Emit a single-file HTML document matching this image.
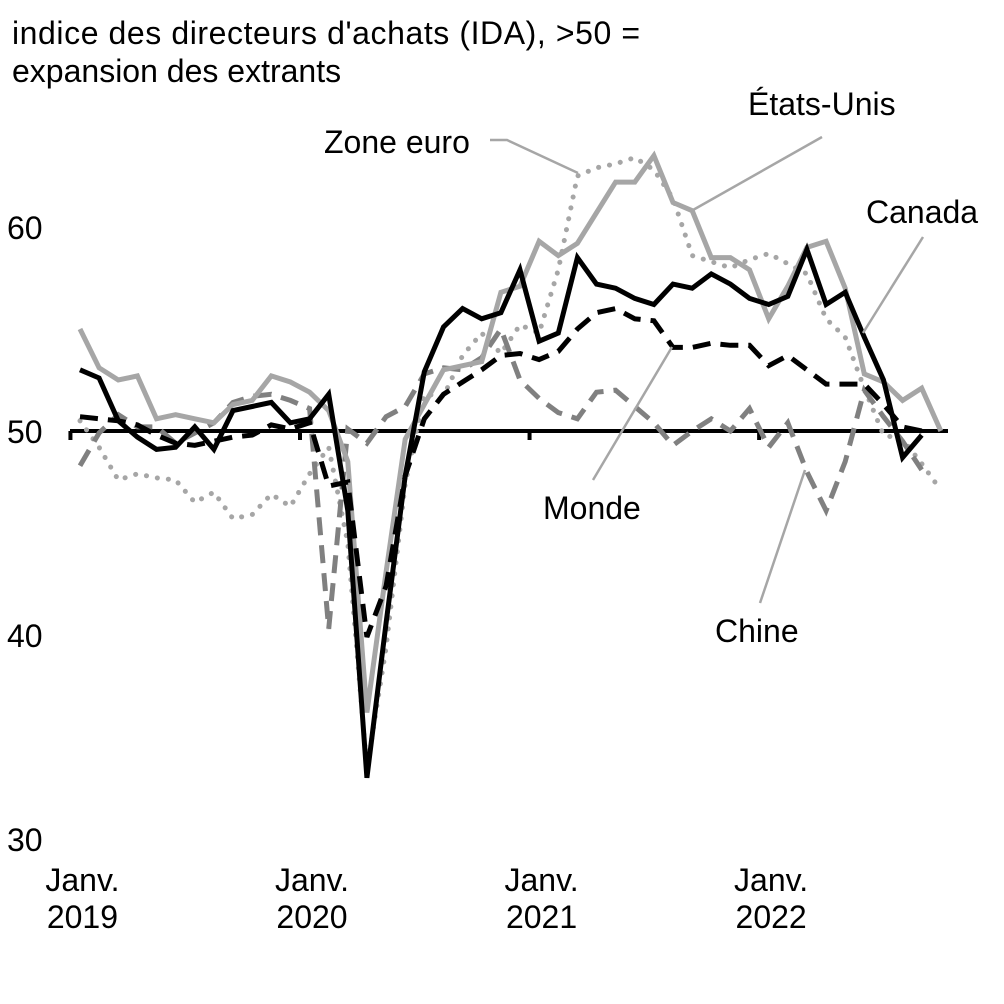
<!DOCTYPE html>
<html><head><meta charset="utf-8"><style>
body{margin:0;background:#fff}
svg{display:block;font-family:"Liberation Sans",sans-serif}
</style></head><body>
<svg id="chart" width="1004" height="1004" viewBox="0 0 1004 1004">
<text x="12" y="44" font-size="32" textLength="628">indice des directeurs d'achats (IDA), &gt;50 =</text>
<text x="12" y="82" font-size="32">expansion des extrants</text>
<g id="yticks"></g>
<g id="xticks"></g>
<g id="series"></g>
<g id="labels" font-size="32">
<polyline points="490,140 507,140 578,173" fill="none" stroke="#a6a6a6" stroke-width="2.5"/>
<text x="324" y="153">Zone euro</text>
<line x1="822" y1="137" x2="693" y2="210" stroke="#a6a6a6" stroke-width="2.5"/>
<text x="748" y="115">États-Unis</text>
<line x1="923" y1="237" x2="863" y2="333" stroke="#a6a6a6" stroke-width="2.5"/>
<text x="866" y="223">Canada</text>
<line x1="672" y1="347" x2="593" y2="480" stroke="#a6a6a6" stroke-width="2.5"/>
<text x="543" y="519">Monde</text>
<line x1="805" y1="470" x2="760" y2="603" stroke="#a6a6a6" stroke-width="2.5"/>
<text x="715" y="642">Chine</text>
</g>
</svg>
<script>
const yTicks=[30,40,50,60];
const xTickYears=["2019","2020","2021","2022"];
const canada=[53.0,52.6,50.5,49.7,49.1,49.2,50.2,49.1,51.0,51.2,51.4,50.4,50.6,51.8,46.1,33.0,40.6,47.8,52.9,55.1,56.0,55.5,55.8,57.9,54.4,54.8,58.5,57.2,57.0,56.5,56.2,57.2,57.0,57.7,57.2,56.5,56.2,56.6,58.9,56.2,56.8,54.6,52.5,48.7,49.8];
const etatsUnis=[55.0,53.1,52.5,52.7,50.6,50.8,50.6,50.4,51.3,51.5,52.7,52.4,51.9,51.0,48.5,36.2,43.1,49.6,51.3,53.0,53.2,53.4,56.8,57.1,59.3,58.6,59.2,60.7,62.2,62.2,63.5,61.2,60.8,58.5,58.5,57.9,55.5,57.1,59.0,59.3,57.0,52.8,52.4,51.5,52.1,50.0];
const zoneEuro=[50.5,49.2,47.6,47.9,47.7,47.6,46.5,47.0,45.7,45.9,46.9,46.3,47.9,49.2,44.5,33.4,39.4,47.4,51.8,51.7,53.7,54.8,53.8,55.2,54.8,57.9,62.5,62.9,63.1,63.4,62.8,61.4,58.6,58.3,58.0,58.4,58.7,58.2,57.7,55.5,54.6,52.1,49.8,49.6,48.4,47.1];
const monde=[50.7,50.6,50.5,50.3,49.8,49.4,49.3,49.5,49.7,49.8,50.3,50.1,50.4,47.3,47.5,39.9,42.4,47.8,50.6,51.8,52.4,53.0,53.7,53.8,53.5,53.9,55.0,55.8,56.0,55.5,55.4,54.1,54.1,54.3,54.2,54.2,53.2,53.7,53.0,52.3,52.3,52.3,51.3,50.2,50.0];
const chine=[48.3,49.9,50.8,50.2,50.2,49.4,49.9,50.4,51.4,51.7,51.8,51.5,51.1,40.3,50.1,49.4,50.7,51.2,52.8,53.1,53.0,53.6,55.0,52.5,51.6,50.9,50.6,51.9,52.0,51.2,50.4,49.3,50.0,50.6,50.0,51.1,49.2,50.4,48.0,46.1,48.5,52.0,50.7,49.5,48.1];

const NS="http://www.w3.org/2000/svg";
function xPos(i){return 80+19.13*i;}
function yPos(v){return 431-(v-50)*20.4;}

const yg=document.getElementById('yticks');
yTicks.forEach(v=>{
  const t=document.createElementNS(NS,'text');
  t.setAttribute('x',7);t.setAttribute('y',yPos(v)+12);t.setAttribute('font-size','32');
  t.textContent=v;
  
  
  yg.appendChild(t);
});

const xg=document.getElementById('xticks');
const axis=document.createElementNS(NS,'line');
axis.setAttribute('x1',70);axis.setAttribute('x2',948);
axis.setAttribute('y1',yPos(50));axis.setAttribute('y2',yPos(50));
axis.setAttribute('stroke','#000');axis.setAttribute('stroke-width','4');


xg.appendChild(axis);
xTickYears.forEach((yr,k)=>{
  const x=xPos(12*k-0.5);
  const tk=document.createElementNS(NS,'line');
  tk.setAttribute('x1',x);tk.setAttribute('x2',x);
  tk.setAttribute('y1',yPos(50));tk.setAttribute('y2',yPos(50)+9);
  tk.setAttribute('stroke','#000');tk.setAttribute('stroke-width','4');
  
  
  xg.appendChild(tk);
  const cx=x+12;
  const t1=document.createElementNS(NS,'text');
  t1.setAttribute('x',cx);t1.setAttribute('y',891);t1.setAttribute('font-size','32');t1.setAttribute('text-anchor','middle');
  t1.textContent='Janv.';
  
  
  xg.appendChild(t1);
  const t2=document.createElementNS(NS,'text');
  t2.setAttribute('x',cx);t2.setAttribute('y',928);t2.setAttribute('font-size','32');t2.setAttribute('text-anchor','middle');
  t2.textContent=yr;
  
  
  xg.appendChild(t2);
});

const sg=document.getElementById('series');
function draw(arr,name,color,dash,cap){
  const p=document.createElementNS(NS,'polyline');
  p.setAttribute('points',arr.map((v,i)=>xPos(i).toFixed(1)+','+yPos(v).toFixed(1)).join(' '));
  p.setAttribute('fill','none');p.setAttribute('stroke',color);p.setAttribute('stroke-width','5');
  p.setAttribute('stroke-linejoin','miter');
  if(dash)p.setAttribute('stroke-dasharray',dash);
  if(cap)p.setAttribute('stroke-linecap',cap);
  
  
  sg.appendChild(p);
}
draw(zoneEuro,'zone-euro-line','#a6a6a6','0.1 11','round');
draw(chine,'chine-line','#808080','18 10','butt');
draw(etatsUnis,'etats-unis-line','#a6a6a6',null,null);
draw(monde,'monde-line','#000','18 10','butt');
draw(canada,'canada-line','#000',null,null);
</script>
</body></html>
